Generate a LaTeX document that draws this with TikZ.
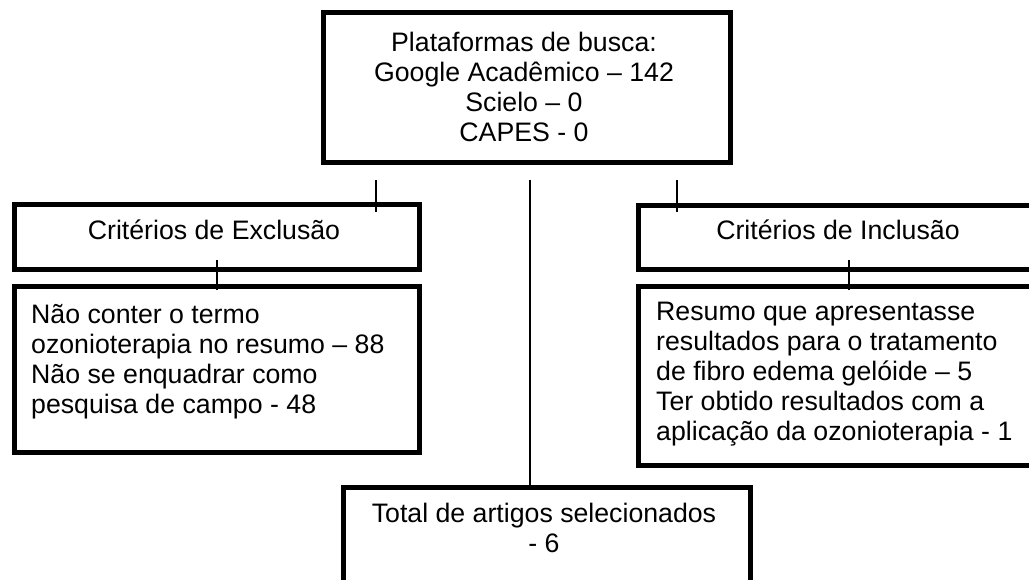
\documentclass[tikz,border=0pt]{standalone}
\usepackage{fontspec}
\setmainfont{Liberation Sans}
\begin{document}
\begin{tikzpicture}[x=1pt,y=-1pt,
  box/.style={draw, line width=5pt, inner sep=0pt, anchor=north west},
  conn/.style={line width=2pt},
  txt/.style={inner sep=0pt, font=\fontsize{26.7}{30}\selectfont}]
\useasboundingbox (0,0) rectangle (1029,580);
\fill[white] (0,0) rectangle (1029,580);
\clip (0,0) rectangle (1029,580);
% boxes
\node[box, minimum width=407pt, minimum height=150pt] (src) at (320.5,10.5) {};
\node[box, minimum width=405pt, minimum height=65pt] (exc) at (11.5,202.5) {};
\node[box, minimum width=405pt, minimum height=64pt] (inc) at (635.5,203.5) {};
\node[box, minimum width=405pt, minimum height=165pt] (excd) at (11.5,284.5) {};
\node[box, minimum width=405pt, minimum height=178pt] (incd) at (635.5,284.5) {};
\node[box, minimum width=407pt, minimum height=150pt] (total) at (340.5,484.5) {};
% texts
\node[txt, anchor=north, align=center] (srct) at (524,30)
  {\strut Plataformas de busca:\\Google Acadêmico – 142\\Scielo – 0\\CAPES - 0};
\node[txt, anchor=base] (exct) at (214,240) {Critérios de Exclusão};
\node[txt, anchor=base] (inct) at (838,240) {Critérios de Inclusão};
\node[txt, anchor=north west, align=left] (excdt) at (31,302)
  {\strut Não conter o termo\\ozonioterapia no resumo – 88\\Não se enquadrar como\\pesquisa de campo - 48};
\node[txt, anchor=north west, align=left] (incdt) at (656,299)
  {\strut Resumo que apresentasse\\resultados para o tratamento\\de fibro edema gelóide – 5\\Ter obtido resultados com a\\aplicação da ozonioterapia - 1};
\node[txt, anchor=north, align=center] (totalt) at (544,501)
  {\strut Total de artigos selecionados\\- 6};
% connectors
\coordinate (l1) at (376,180); \coordinate (l2) at (376,212);
\coordinate (r1) at (677,180); \coordinate (r2) at (677,212);
\coordinate (c1) at (530,180);
\coordinate (ld1) at (217,260); \coordinate (ld2) at (217,290);
\coordinate (rd1) at (849,260); \coordinate (rd2) at (849,290);
\draw[conn] (l1) -- (l2);
\draw[conn] (r1) -- (r2);
\draw[conn] (c1) -- (c1 |- total.north);
\draw[conn] (ld1) -- (ld2);
\draw[conn] (rd1) -- (rd2);
\end{tikzpicture}
\end{document}
